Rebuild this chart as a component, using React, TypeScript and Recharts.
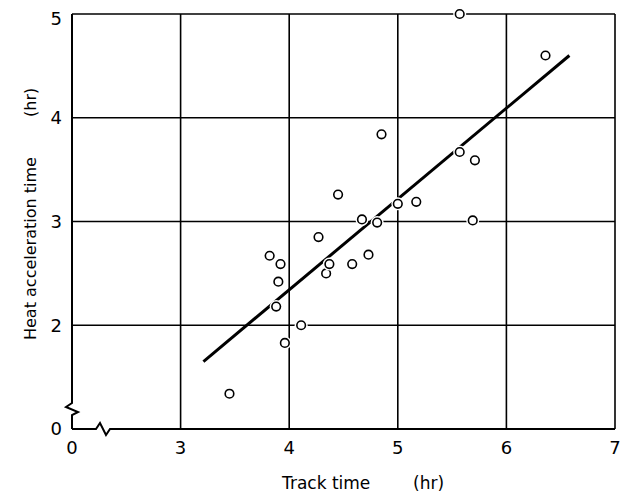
import { ScatterChart, Scatter, XAxis, YAxis, CartesianGrid, ReferenceLine, Label } from 'recharts'

// track time vs heat acceleration time (hr)
const trackTime = [3.45, 3.82, 3.92, 3.9, 3.88, 3.96, 4.11, 4.27, 4.34, 4.37, 4.45, 4.58, 4.67, 4.73, 4.81, 4.85, 5.0, 5.17, 5.57, 5.57, 5.69, 5.71, 6.36]
const heatTime = [1.34, 2.67, 2.59, 2.42, 2.18, 1.83, 2.0, 2.85, 2.5, 2.59, 3.26, 2.59, 3.02, 2.68, 2.99, 3.84, 3.17, 3.19, 3.67, 5.0, 3.01, 3.59, 4.6]

// fitted line end points
const fitX = [3.21, 6.58]
const fitY = [1.65, 4.6]

// axis 0 is drawn where the break sits (x=2, y=1)
const xTicks = [2, 3, 4, 5, 6, 7]
const yTicks = [1, 2, 3, 4, 5]
const xGrid = [3, 4, 5, 6, 7]
const yGrid = [2, 3, 4, 5]

const points = trackTime.map((x, i) => ({ x, y: heatTime[i] }))
const fitLine = fitX.map((x, i) => ({ x, y: fitY[i] }))

const font = '"DejaVu Sans", sans-serif'

const Ring = ({ cx, cy }: any) => (
    <g>
        <circle cx={cx} cy={cy} r={6.5} fill="#fff" />
        <circle cx={cx} cy={cy} r={4.3} fill="#fff" stroke="#000" strokeWidth={1.6} />
    </g>
)

const BottomAxis = ({ x1, y1, x2 }: any) => (
    <path
        d={`M${x1},${y1} L${x1 + 24},${y1} L${x1 + 28},${y1 - 6} L${x1 + 34},${y1 + 6} L${x1 + 38},${y1} L${x2},${y1}`}
        fill="none"
        stroke="#000"
        strokeWidth={2}
    />
)

const LeftAxis = ({ x1, y1, y2 }: any) => {
    const bottom = Math.max(y1, y2)
    const top = Math.min(y1, y2)
    return (
        <path
            d={`M${x1},${bottom} L${x1},${bottom - 14} L${x1 + 6},${bottom - 17} L${x1 - 6},${bottom - 22} L${x1},${bottom - 26} L${x1},${top}`}
            fill="none"
            stroke="#000"
            strokeWidth={2}
        />
    )
}

const XTitle = ({ viewBox }: any) => {
    const { x, y } = viewBox
    return (
        <text x={x + 210} y={y + 60} fontFamily={font} fontSize={17} fill="#000">
            Track time
            <tspan x={x + 341}>(hr)</tspan>
        </text>
    )
}

const YTitle = ({ viewBox }: any) => {
    const { x, y } = viewBox
    return (
        <text transform={`translate(${x + 28},${y + 326}) rotate(-90)`} x={0} y={0} fontFamily={font} fontSize={16} fill="#000">
            Heat acceleration time
            <tspan x={223}>(hr)</tspan>
        </text>
    )
}

const App = () => {
    return (
        <ScatterChart width={621} height={484} margin={{ top: 6, right: 14, bottom: 33, left: 0 }}>
            <CartesianGrid
                verticalValues={xGrid}
                horizontalValues={yGrid}
                stroke="#000"
                strokeWidth={1.6}
                fill="none"
            />
            <XAxis
                type="number"
                dataKey="x"
                domain={[2, 7]}
                ticks={xTicks}
                tickFormatter={(v) => (v === 2 ? '0' : String(v))}
                axisLine={false}
                tickLine={false}
                tickSize={0}
                tickMargin={12}
                height={30}
                tick={{ fill: '#000', fontSize: 18, fontFamily: font }}
            >
                <Label content={<XTitle />} />
            </XAxis>
            <YAxis
                type="number"
                dataKey="y"
                domain={[1, 5]}
                ticks={yTicks}
                tickFormatter={(v) => (v === 1 ? '0' : String(v))}
                axisLine={false}
                tickLine={false}
                tickSize={0}
                tickMargin={10}
                width={64}
                tick={{ fill: '#000', fontSize: 18, fontFamily: font }}
            >
                <Label content={<YTitle />} />
            </YAxis>
            <ReferenceLine segment={[{ x: 2, y: 1 }, { x: 7, y: 1 }]} shape={<BottomAxis />} ifOverflow="visible" />
            <ReferenceLine segment={[{ x: 2, y: 1 }, { x: 2, y: 5 }]} shape={<LeftAxis />} ifOverflow="visible" />
            <Scatter
                data={fitLine}
                line={{ stroke: '#000', strokeWidth: 3 }}
                shape={() => null}
                isAnimationActive={false}
            />
            <Scatter data={points} shape={<Ring />} isAnimationActive={false} />
        </ScatterChart>
    )
}

export default App
